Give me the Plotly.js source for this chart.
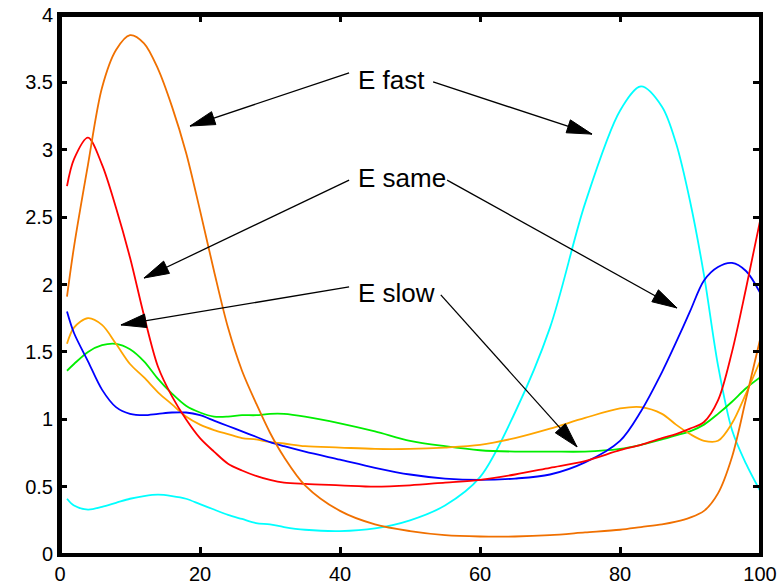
<!DOCTYPE html>
<html><head><meta charset="utf-8">
<script src="https://cdn.plot.ly/plotly-3.0.1.min.js"></script>
<style>html,body{margin:0;padding:0;background:#fff}#wrap{position:relative;width:782px;height:588px}#chart{width:782px;height:588px}#frame{position:absolute;left:0;top:0;width:782px;height:588px;pointer-events:none;z-index:10}#frame div{position:absolute;background:#000}</style>
</head><body><div id="wrap"><div id="chart"></div><div id="frame"></div></div>
<script>
const xVals = [1,2,4,6,8,10,12,14,16,18,20,22,24,26,28,30,32,35,40,45,50,55,60,65,70,75,80,83,86,88,90,92,94,96,98,100];
const darkOrangeVals = [1.91,2.28,2.89,3.46,3.74,3.85,3.79,3.60,3.32,2.98,2.55,2.10,1.68,1.36,1.12,0.90,0.72,0.51,0.32,0.22,0.17,0.14,0.13,0.13,0.14,0.16,0.18,0.20,0.22,0.24,0.27,0.32,0.45,0.72,1.15,1.59];
const redVals = [2.73,2.93,3.09,2.89,2.57,2.20,1.77,1.39,1.17,1.00,0.86,0.76,0.67,0.62,0.58,0.55,0.53,0.52,0.51,0.50,0.51,0.53,0.55,0.59,0.64,0.69,0.77,0.81,0.86,0.89,0.93,0.98,1.14,1.50,1.97,2.47];
const blueVals = [1.80,1.64,1.43,1.22,1.09,1.04,1.03,1.04,1.05,1.05,1.03,0.99,0.95,0.91,0.87,0.83,0.80,0.76,0.70,0.64,0.59,0.56,0.55,0.56,0.59,0.68,0.84,1.06,1.35,1.57,1.80,2.03,2.13,2.16,2.10,1.94];
const greenVals = [1.36,1.41,1.50,1.55,1.56,1.52,1.43,1.30,1.19,1.10,1.05,1.02,1.02,1.03,1.03,1.04,1.04,1.02,0.97,0.91,0.84,0.80,0.77,0.76,0.76,0.76,0.78,0.81,0.85,0.88,0.91,0.96,1.04,1.13,1.23,1.31];
const orangeVals = [1.56,1.68,1.75,1.70,1.56,1.41,1.31,1.20,1.11,1.02,0.96,0.92,0.89,0.86,0.85,0.83,0.82,0.80,0.79,0.78,0.78,0.79,0.81,0.86,0.93,1.01,1.08,1.09,1.04,0.96,0.89,0.84,0.84,0.97,1.19,1.43];
const cyanVals = [0.41,0.36,0.33,0.35,0.38,0.41,0.43,0.44,0.43,0.41,0.37,0.33,0.29,0.26,0.23,0.22,0.20,0.18,0.17,0.19,0.25,0.36,0.57,1.05,1.68,2.60,3.29,3.47,3.32,3.05,2.62,2.07,1.40,0.92,0.67,0.47];

const xTicks = [0,20,40,60,80,100];
const yTicks = [0,0.5,1,1.5,2,2.5,3,3.5,4];
const xRange = [0, 100];
const yRange = [0, 4];

const labelTexts = ["E fast", "E same", "E slow"];
const labelX = [42.3, 42.3, 42.3];
const labelY = [3.52, 2.79, 1.94];
// arrows: [x0, y0, x1(tip), y1(tip)] in data units
const arrowList = [
  [41.3, 3.570, 18.57, 3.176],
  [53.3, 3.503, 76.0, 3.116],
  [41.3, 2.775, 12.0, 2.048],
  [55.3, 2.775, 88.14, 1.826],
  [41.3, 1.982, 8.71, 1.700],
  [54.4, 1.923, 73.86, 0.795]
];

const W = 782, H = 588;
const M = {l: 60, r: 22, t: 15, b: 34};
const plotW = W - M.l - M.r, plotH = H - M.t - M.b;
const pxPerX = plotW / (xRange[1] - xRange[0]);
const pxPerY = plotH / (yRange[1] - yRange[0]);

// frame box and inward ticks on all four sides (axis decoration), drawn synchronously
(function drawFrame() {
  const X = v => M.l + (v - xRange[0]) * pxPerX;
  const Y = v => M.t + plotH - (v - yRange[0]) * pxPerY;
  const left = X(xRange[0]), right = X(xRange[1]), top = Y(yRange[1]), bottom = Y(yRange[0]);
  const lw = 3, tl = 7;
  const frame = document.getElementById('frame');
  const bar = (x, y, w, h) => {
    const d = document.createElement('div');
    d.style.left = Math.round(x) + 'px'; d.style.top = Math.round(y) + 'px';
    d.style.width = Math.round(w) + 'px'; d.style.height = Math.round(h) + 'px';
    frame.appendChild(d);
  };
  bar(left - lw / 2, top - lw / 2, right - left + lw, lw);
  bar(left - lw / 2, bottom - lw / 2, right - left + lw, lw);
  bar(left - lw / 2, top - lw / 2, lw, bottom - top + lw);
  bar(right - lw / 2, top - lw / 2, lw, bottom - top + lw);
  xTicks.forEach(v => {
    const x = X(v);
    bar(x - lw / 2, bottom - tl, lw, tl);
    bar(x - lw / 2, top, lw, tl);
  });
  yTicks.forEach(v => {
    const y = Y(v);
    bar(left, y - lw / 2, tl, lw);
    bar(right - tl, y - lw / 2, tl, lw);
  });
})();

const series = [
  {y: cyanVals, c: '#00ffff'},
  {y: greenVals, c: '#00ee00'},
  {y: orangeVals, c: '#ffa500'},
  {y: blueVals, c: '#0000ff'},
  {y: redVals, c: '#ff0000'},
  {y: darkOrangeVals, c: '#f07000'}
];
const traces = series.map(s => ({
  x: xVals, y: s.y, type: 'scatter', mode: 'lines',
  line: {color: s.c, width: 1.8, shape: 'spline', smoothing: 0.9},
  hoverinfo: 'skip', showlegend: false
}));

const shapes = [];
const headLen = 25, headHalf = 6.8;
arrowList.forEach(a => {
  shapes.push({type: 'line', xref: 'x', yref: 'y', x0: a[0], y0: a[1], x1: a[2], y1: a[3],
    line: {color: '#000', width: 1.3}});
  const dx = (a[2] - a[0]) * pxPerX, dy = (a[3] - a[1]) * pxPerY;
  const len = Math.hypot(dx, dy);
  const ux = dx / len, uy = dy / len;
  const bx = -ux * headLen, by = -uy * headLen;
  const px = -uy, py = ux;
  const p1 = [bx + px * headHalf, by + py * headHalf];
  const p2 = [bx - px * headHalf, by - py * headHalf];
  shapes.push({type: 'path', xref: 'x', yref: 'y', xsizemode: 'pixel', ysizemode: 'pixel',
    xanchor: a[2], yanchor: a[3],
    path: `M0,0 L${p1[0].toFixed(2)},${p1[1].toFixed(2)} L${p2[0].toFixed(2)},${p2[1].toFixed(2)} Z`,
    fillcolor: '#000', line: {color: '#000', width: 1}});
});

const annotations = labelTexts.map((t, i) => ({
  text: t, x: labelX[i], y: labelY[i], xref: 'x', yref: 'y',
  xanchor: 'left', yanchor: 'middle', showarrow: false,
  font: {family: 'Liberation Sans, Arial, sans-serif', size: 26, color: '#000'}
}));

const axisCommon = {
  showgrid: false, zeroline: false, showline: true, linecolor: '#000000', linewidth: 3,
  mirror: 'ticks', ticks: 'inside', ticklen: 7, tickwidth: 3, tickcolor: '#000000',
  tickfont: {family: 'Liberation Sans, Arial, sans-serif', size: 20, color: '#000'}
};

const layout = {
  width: W, height: H, margin: M, showlegend: false,
  paper_bgcolor: '#fff', plot_bgcolor: '#fff',
  xaxis: Object.assign({}, axisCommon, {range: xRange, tickmode: 'array', tickvals: xTicks, ticktext: xTicks.map(String)}),
  yaxis: Object.assign({}, axisCommon, {range: yRange, tickmode: 'array', tickvals: yTicks, ticktext: yTicks.map(String)}),
  shapes: shapes, annotations: annotations
};

Plotly.newPlot('chart', traces, layout, {staticPlot: true, displayModeBar: false});
</script></body></html>
